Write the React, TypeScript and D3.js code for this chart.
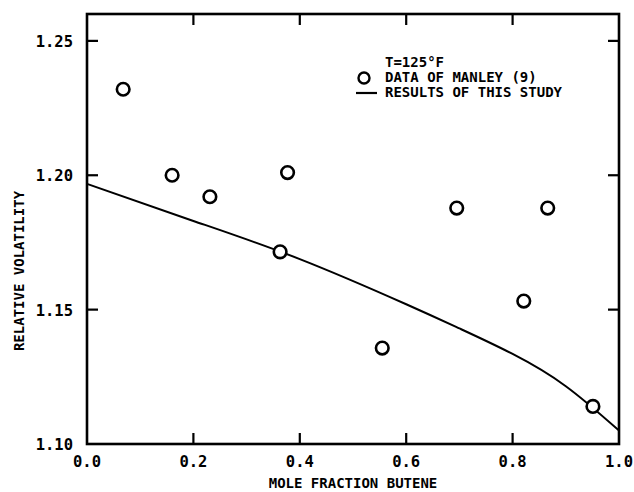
import * as d3 from 'd3'

// mole fraction butene vs relative volatility, T = 125 F
const manleyX = [0.068, 0.16, 0.231, 0.363, 0.377, 0.555, 0.695, 0.821, 0.866, 0.951]
const manleyY = [1.232, 1.2, 1.192, 1.1715, 1.201, 1.1357, 1.1878, 1.1532, 1.1878, 1.114]

const studyX = [0.0, 0.2, 0.4, 0.6, 0.7, 0.8, 0.9, 1.0]
const studyY = [1.1968, 1.183, 1.1688, 1.152, 1.143, 1.1335, 1.1215, 1.105]

const xTicks = [0, 0.2, 0.4, 0.6, 0.8, 1.0]
const yTicks = [1.1, 1.15, 1.2, 1.25]

const W = 634
const H = 492
const margin = { top: 14, right: 15, bottom: 48, left: 87 }
const font = "'DejaVu Sans Mono', 'Liberation Mono', monospace"

const App = () => {
  const x = d3.scaleLinear().domain([0, 1]).range([margin.left, W - margin.right])
  const y = d3.scaleLinear().domain([1.1, 1.26]).range([H - margin.bottom, margin.top])

  const line = d3
    .line<number>()
    .x((d) => x(d))
    .y((_, i) => y(studyY[i]))
    .curve(d3.curveNatural)

  const x0 = x(0), x1 = x(1), yb = y(1.1), yt = y(1.26)
  const tick = 11

  return (
    <svg
      width={W}
      height={H}
      style={{ position: 'absolute', left: 0, top: 0, background: '#fff' }}
      fontFamily={font}
      fontWeight="bold"
    >
      {/* frame */}
      <rect x={x0} y={yt} width={x1 - x0} height={yb - yt} fill="none" stroke="#000" strokeWidth={2.6} />

      {/* ticks */}
      {xTicks.slice(1, -1).map((t) => (
        <g key={'xt' + t} stroke="#000" strokeWidth={2.2}>
          <line x1={x(t)} x2={x(t)} y1={yb} y2={yb - tick} />
          <line x1={x(t)} x2={x(t)} y1={yt} y2={yt + tick} />
        </g>
      ))}
      {yTicks.slice(1).map((t) => (
        <g key={'yt' + t} stroke="#000" strokeWidth={2.2}>
          <line x1={x0} x2={x0 + tick} y1={y(t)} y2={y(t)} />
          <line x1={x1} x2={x1 - tick} y1={y(t)} y2={y(t)} />
        </g>
      ))}

      {/* tick labels */}
      {xTicks.map((t) => (
        <text key={'xl' + t} x={x(t)} y={yb + 23} textAnchor="middle" fontSize={15.5}>
          {t.toFixed(1)}
        </text>
      ))}
      {yTicks.map((t) => (
        <text key={'yl' + t} x={x0 - 14} y={y(t) + 6} textAnchor="end" fontSize={15.5}>
          {t.toFixed(2)}
        </text>
      ))}

      {/* axis titles */}
      <text x={(x0 + x1) / 2} y={yb + 44} textAnchor="middle" fontSize={14}>
        MOLE FRACTION BUTENE
      </text>
      <text
        transform={`translate(24,${(yt + yb) / 2 + 42}) rotate(-90)`}
        textAnchor="middle"
        fontSize={14}
      >
        RELATIVE VOLATILITY
      </text>

      {/* model curve */}
      <path d={line(studyX) ?? ''} fill="none" stroke="#000" strokeWidth={2} />

      {/* data points */}
      {manleyX.map((d, i) => (
        <circle key={'p' + i} cx={x(d)} cy={y(manleyY[i])} r={6.3} fill="#fff" stroke="#000" strokeWidth={2.6} />
      ))}

      {/* legend */}
      <g fontSize={14}>
        <text x={385} y={67}>T=125°F</text>
        <circle cx={364} cy={78} r={5.5} fill="none" stroke="#000" strokeWidth={2.4} />
        <text x={385} y={82}>DATA OF MANLEY (9)</text>
        <line x1={356} x2={377} y1={93} y2={93} stroke="#000" strokeWidth={2.2} />
        <text x={385} y={97}>RESULTS OF THIS STUDY</text>
      </g>
    </svg>
  )
}

export default App
